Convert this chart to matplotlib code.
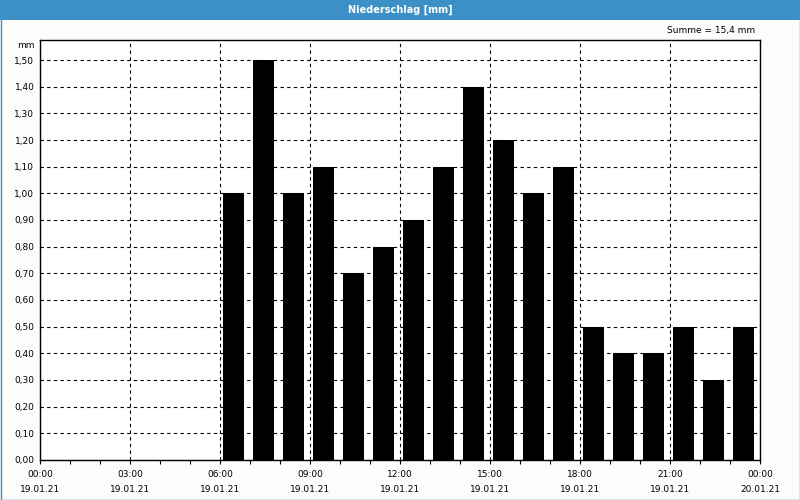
import matplotlib
matplotlib.use("Agg")
import matplotlib.pyplot as plt
from matplotlib.patches import Rectangle

hours = list(range(6, 24))
values = [1.0, 1.5, 1.0, 1.1, 0.7, 0.8, 0.9, 1.1, 1.4, 1.2, 1.0, 1.1, 0.5, 0.4, 0.4, 0.5, 0.3, 0.5]
tick_hours = [0, 3, 6, 9, 12, 15, 18, 21, 24]
tick_times = ["00:00", "03:00", "06:00", "09:00", "12:00", "15:00", "18:00", "21:00", "00:00"]
tick_dates = ["19.01.21"] * 8 + ["20.01.21"]
y_ticks = [i / 10 for i in range(16)]
title = "Niederschlag [mm]"
summe = "Summe = 15,4 mm"

W, H = 800, 500
fig = plt.figure(figsize=(8, 5), dpi=100)
fig.patch.set_facecolor("#fbfdfb")

# title bar
fig.patches.append(Rectangle((0, 1 - 20 / H), 1, 20 / H, transform=fig.transFigure,
                             facecolor="#3d90c6", edgecolor="none", zorder=0))
fig.text(0.5, 1 - 10 / H, title, ha="center", va="center", color="white",
         fontsize=7, fontweight="bold")
# outer border
fig.patches.append(Rectangle((0.5 / W, 0.5 / H), 1 - 1 / W, 1 - 1 / H, transform=fig.transFigure,
                             facecolor="none", edgecolor="#3d90c6", linewidth=1.0, zorder=5))

ax = fig.add_axes([40 / W, 40 / H, 720 / W, 420 / H])
ax.set_facecolor("white")
ax.bar([h + 0.1 for h in hours], values, width=0.7, align="edge", color="black", zorder=3)

ax.set_xlim(0, 24)
ax.set_ylim(0, 1.575)
ax.set_yticks(y_ticks)
ax.set_yticklabels([f"{v:.2f}".replace(".", ",") for v in y_ticks], fontsize=6.5)
ax.set_xticks(tick_hours)
ax.set_xticklabels([f"{t}\n{d}" for t, d in zip(tick_times, tick_dates)], fontsize=6.5,
                   linespacing=1.95)
ax.set_xticks(range(25), minor=True)
ax.tick_params(axis="x", which="both", length=3, width=0.8, pad=4)
ax.tick_params(axis="y", length=0, pad=4)
ax.grid(True, which="major", color="black", linestyle=(0, (3, 3)), linewidth=0.8, zorder=1)
for s in ax.spines.values():
    s.set_linewidth(1)
    s.set_color("black")

fig.text(35 / W, 1 - 45 / H, "mm", ha="right", va="center", fontsize=6.5)
fig.text(755 / W, 1 - 31 / H, summe, ha="right", va="center", fontsize=6.5)

fig.savefig("out.png", dpi=100, facecolor=fig.get_facecolor())
